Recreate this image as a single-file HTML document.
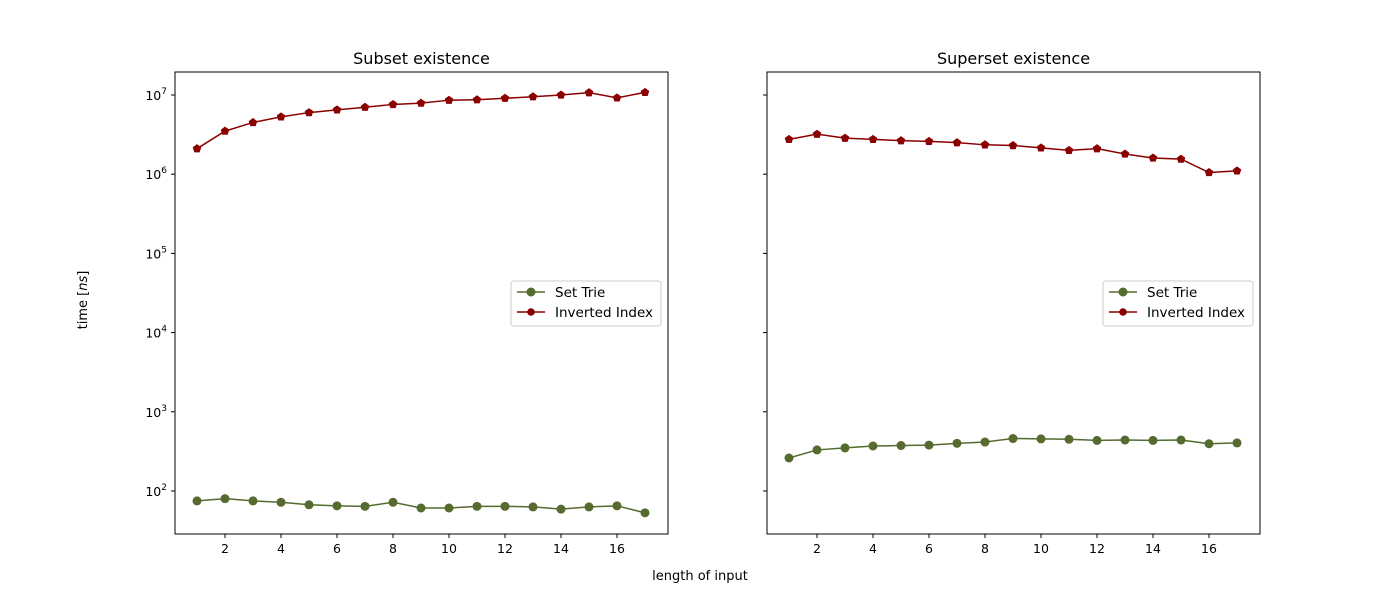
<!DOCTYPE html>
<html><head><meta charset="utf-8"><style>
body{margin:0;background:#fff}
svg text{font-family:"DejaVu Sans","Liberation Sans",sans-serif;fill:#000}
</style></head><body>
<svg id="chart" width="1400" height="600" xmlns="http://www.w3.org/2000/svg"></svg>
<script>
const categories=[1,2,3,4,5,6,7,8,9,10,11,12,13,14,15,16,17];
const subsetSetTrie=[75,80,75,72,67,65,64,72,61,61,64,64,63,59,63,65,53];
const subsetInverted=[2.1e6,3.5e6,4.5e6,5.3e6,6e6,6.5e6,7e6,7.6e6,7.9e6,8.6e6,8.7e6,9.1e6,9.5e6,1e7,1.07e7,9.2e6,1.08e7];
const supersetSetTrie=[261,330,350,370,375,380,400,415,460,455,450,435,440,435,440,395,405];
const supersetInverted=[2.75e6,3.2e6,2.85e6,2.75e6,2.65e6,2.6e6,2.5e6,2.35e6,2.3e6,2.15e6,2.0e6,2.1e6,1.8e6,1.6e6,1.55e6,1.05e6,1.1e6];
const xTicks=[2,4,6,8,10,12,14,16];
const yTickExps=[2,3,4,5,6,7];
const NS="http://www.w3.org/2000/svg";
const svg=document.getElementById('chart');
function mk(t,a,p){const e=document.createElementNS(NS,t);for(const k in a)e.setAttribute(k,a[k]);(p||svg).appendChild(e);return e;}
const topY=72,bot=534;
function yS(v){return 491-(Math.log10(v)-2)*79.2;}
function panel(x0,title,st,inv,showY,name){
  const g=mk('g',{});
  
  
  const xS=v=>x0+22+(v-1)*28;
  const t=mk('text',{x:x0+246.5,y:64,'font-size':16,'text-anchor':'middle'},g);t.textContent=title;
  
  
  xTicks.forEach(v=>{const x=xS(v);mk('line',{x1:x,x2:x,y1:bot,y2:bot+4,stroke:'#000'},g);
    const l=mk('text',{x:x,y:bot+19,'font-size':12.5,'text-anchor':'middle'},g);l.textContent=v;
    
    });
  yTickExps.forEach(e=>{const y=yS(Math.pow(10,e));mk('line',{x1:x0-4,x2:x0,y1:y,y2:y,stroke:'#000'},g);
    if(showY){const l=mk('text',{x:x0-8,y:y+5,'font-size':12.5,'text-anchor':'end'},g);
      l.appendChild(document.createTextNode('10'));const s=mk('tspan',{dy:-6,'font-size':9},l);s.textContent=e;
      
      }});
  function series(vals,col,marker,nm){
    const pts=vals.map((v,i)=>[xS(categories[i]),yS(v)]);
    const pl=mk('polyline',{points:pts.map(p=>p.join(',')).join(' '),fill:'none',stroke:col,'stroke-width':1.5},g);
    
    
    pts.forEach(p=>{let m;
      if(marker==='c')m=mk('circle',{cx:p[0],cy:p[1],r:4.5,fill:col},g);
      else{const r=4.5,pp=[];for(let k=0;k<5;k++){const a=-Math.PI/2+k*2*Math.PI/5;pp.push((p[0]+r*Math.cos(a))+','+(p[1]+r*Math.sin(a)));}
        m=mk('polygon',{points:pp.join(' '),fill:col},g);}
      
      });
  }
  series(st,'#556b2f','c','set-trie');
  series(inv,'#8b0000','p','inverted-index');
  mk('rect',{x:x0,y:topY,width:493,height:bot-topY,fill:'none',stroke:'#000','stroke-width':1},g);
  const lg=mk('g',{},g);
  
  
  const lx=x0+336;
  mk('rect',{x:lx,y:281,width:150,height:45,rx:3,fill:'#fff',stroke:'#ccc'},lg);
  mk('line',{x1:lx+6,x2:lx+34,y1:292,y2:292,stroke:'#556b2f','stroke-width':1.5},lg);
  mk('circle',{cx:lx+20,cy:292,r:4.5,fill:'#556b2f'},lg);
  mk('line',{x1:lx+6,x2:lx+34,y1:312,y2:312,stroke:'#8b0000','stroke-width':1.5},lg);
  mk('circle',{cx:lx+20,cy:312,r:3.8,fill:'#8b0000'},lg);
  const a=mk('text',{x:lx+44,y:297,'font-size':13.5},lg);a.textContent='Set Trie';
  const b=mk('text',{x:lx+44,y:317,'font-size':13.5},lg);b.textContent='Inverted Index';
}
panel(175,'Subset existence',subsetSetTrie,subsetInverted,true,'subset-panel');
panel(767,'Superset existence',supersetSetTrie,supersetInverted,false,'superset-panel');
const xl=mk('text',{x:700,y:580,'font-size':13,'text-anchor':'middle'});xl.textContent='length of input';


const yl=mk('text',{x:0,y:0,'font-size':13,'text-anchor':'middle',transform:'translate(87,300) rotate(-90)'});
yl.appendChild(document.createTextNode('time ['));const it=mk('tspan',{'font-style':'italic'},yl);it.textContent='ns';yl.appendChild(document.createTextNode(']'));


</script>
</body></html>
